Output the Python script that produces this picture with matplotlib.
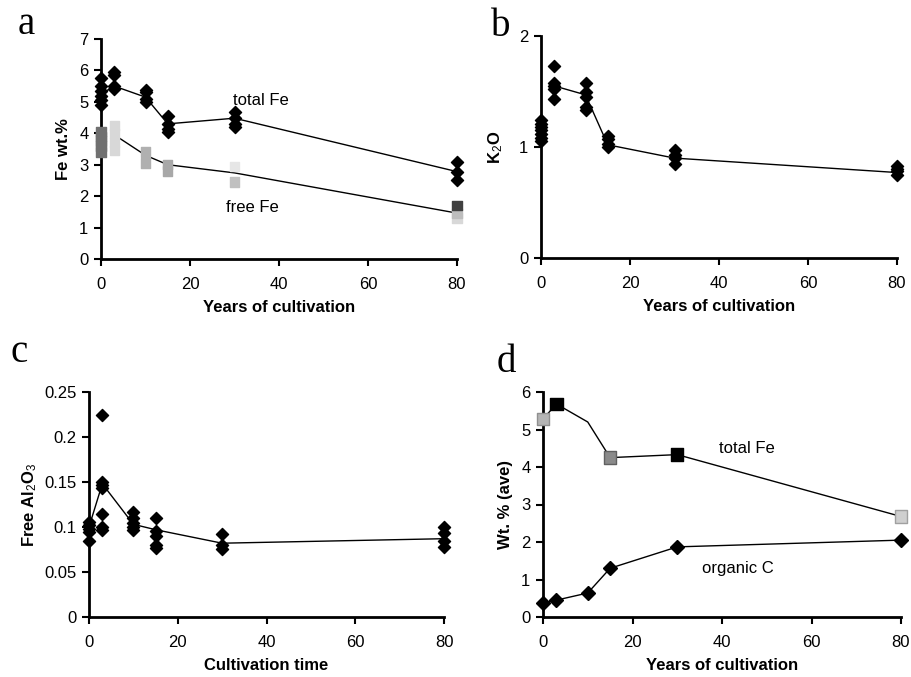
import numpy as np
import matplotlib
matplotlib.use("Agg")
import matplotlib.pyplot as plt

plt.rcParams['font.family'] = ['Liberation Sans', 'DejaVu Sans']
plt.rcParams['mathtext.fontset'] = 'custom'
plt.rcParams['mathtext.rm'] = 'Liberation Sans'
plt.rcParams['mathtext.it'] = 'Liberation Sans'
plt.rcParams['mathtext.bf'] = 'Liberation Sans:bold'

# ---- data ----
# panel a: total Fe and free Fe (wt.%)
a_tot_x = [0, 0, 0, 0, 0, 0, 3, 3, 3, 3, 10, 10, 10, 10, 15, 15, 15, 15, 30, 30, 30, 30, 80, 80, 80]
a_tot_y = [4.9, 5.05, 5.2, 5.35, 5.5, 5.75, 5.4, 5.5, 5.85, 5.95, 5.0, 5.1, 5.3, 5.38,
           4.05, 4.15, 4.3, 4.55, 4.2, 4.3, 4.5, 4.68, 2.5, 2.78, 3.1]
a_tot_mx = [0, 3, 10, 15, 30, 80]
a_tot_my = [5.25, 5.5, 5.15, 4.3, 4.48, 2.78]

a_free_x = [0, 0, 0, 0, 0, 3, 3, 3, 3, 10, 10, 15, 15, 30, 30, 80, 80, 80]
a_free_y = [3.4, 3.6, 3.75, 3.9, 4.05, 3.45, 3.7, 4.0, 4.25, 3.05, 3.4, 2.8, 3.0, 2.45, 2.95, 1.3, 1.45, 1.7]
a_free_c = ['#707070'] * 5 + ['#d8d8d8'] * 4 + ['#b0b0b0'] * 2 + ['#a8a8a8'] * 2 + ['#c0c0c0', '#e6e6e6'] + ['#d8d8d8', '#bdbdbd', '#404040']
a_free_mx = [3, 10, 15, 30, 80]
a_free_my = [3.95, 3.3, 3.0, 2.74, 1.46]

# panel b: K2O
b_x = [0] * 7 + [3] * 5 + [10] * 5 + [15] * 4 + [30] * 4 + [80] * 4
b_y = [1.05, 1.08, 1.12, 1.15, 1.18, 1.21, 1.24,
       1.43, 1.52, 1.55, 1.58, 1.73,
       1.33, 1.36, 1.45, 1.5, 1.58,
       1.0, 1.03, 1.07, 1.1,
       0.85, 0.9, 0.93, 0.97,
       0.75, 0.78, 0.8, 0.83]
b_mx = [3, 10, 15, 30, 80]
b_my = [1.55, 1.47, 1.02, 0.9, 0.77]

# panel c: free Al2O3
c_x = [0] * 5 + [3] * 7 + [10] * 5 + [15] * 5 + [30] * 3 + [80] * 4
c_y = [0.085, 0.095, 0.098, 0.102, 0.106,
       0.097, 0.1, 0.115, 0.143, 0.147, 0.15, 0.224,
       0.097, 0.1, 0.105, 0.11, 0.117,
       0.077, 0.08, 0.09, 0.096, 0.11,
       0.076, 0.08, 0.092,
       0.078, 0.085, 0.093, 0.1]
c_mx = [0, 3, 10, 15, 30, 80]
c_my = [0.1, 0.148, 0.103, 0.097, 0.082, 0.087]

# panel d: averages
d_x = [0, 3, 10, 15, 30, 80]
d_fe = [5.28, 5.68, 5.2, 4.25, 4.33, 2.68]
d_fe_c = ['#b5b5b5', 'black', 'none', '#8a8a8a', 'black', '#cfcfcf']
d_orgc = [0.37, 0.45, 0.64, 1.3, 1.87, 2.05]

W, H = 911, 677
FS = 12
fig = plt.figure(figsize=(W / 100, H / 100), dpi=100, facecolor='white')


def make_ax(l, r, b, t):
    ax = fig.add_axes([l / W, 1 - b / H, (r - l) / W, (b - t) / H])
    for s in ['top', 'right']:
        ax.spines[s].set_visible(False)
    for s in ['left', 'bottom']:
        ax.spines[s].set_linewidth(2.0)
    ax.tick_params(direction='out', width=1.5, length=5, labelsize=FS, pad=4)
    ax.tick_params(axis='x', pad=8)
    ax.set_xlim(0, 80)
    ax.set_xticks([0, 20, 40, 60, 80])
    return ax


def letter(x, y, s):
    fig.text(x / W, 1 - y / H, s, family='Liberation Serif', fontsize=28,
             ha='left', va='baseline')


# a
ax = make_ax(101, 457, 259, 39)
ax.plot(a_tot_mx, a_tot_my, color='black', lw=1.0, zorder=2)
ax.plot(a_free_mx, a_free_my, color='black', lw=1.0, zorder=2)
ax.scatter(a_tot_x, a_tot_y, marker='D', s=38, color='black', zorder=3, clip_on=False)
ax.scatter(a_free_x, a_free_y, marker='s', s=45, c=a_free_c, zorder=3, clip_on=False)
ax.set_ylim(0, 7)
ax.set_yticks(range(8))
ax.set_xlabel('Years of cultivation', fontweight='bold', fontsize=FS, labelpad=6)
ax.set_ylabel('Fe wt.%', fontweight='bold', fontsize=FS, labelpad=6)
ax.text(36, 5.05, 'total Fe', fontsize=FS, ha='center', va='center')
ax.text(34, 1.65, 'free Fe', fontsize=FS, ha='center', va='center')
letter(18, 34, 'a')

# b
ax = make_ax(541, 897, 258, 36)
ax.plot(b_mx, b_my, color='black', lw=1.0, zorder=2)
ax.scatter(b_x, b_y, marker='D', s=38, color='black', zorder=3, clip_on=False)
ax.set_ylim(0, 2)
ax.set_yticks([0, 1, 2])
ax.set_xlabel('Years of cultivation', fontweight='bold', fontsize=FS, labelpad=6)
ax.set_ylabel('K$_2$O', fontweight='bold', fontsize=FS, labelpad=10)
letter(491, 36, 'b')

# c
ax = make_ax(89, 444, 617, 392)
ax.plot(c_mx, c_my, color='black', lw=1.0, zorder=2)
ax.scatter(c_x, c_y, marker='D', s=38, color='black', zorder=3, clip_on=False)
ax.set_ylim(0, 0.25)
ax.set_yticks([0, 0.05, 0.1, 0.15, 0.2, 0.25])
ax.set_yticklabels(['0', '0.05', '0.1', '0.15', '0.2', '0.25'])
ax.set_xlabel('Cultivation time', fontweight='bold', fontsize=FS, labelpad=6)
ax.set_ylabel('Free Al$_2$O$_3$', fontweight='bold', fontsize=FS, labelpad=4)
letter(10, 362, 'c')

# d
ax = make_ax(543, 901, 617, 392)
ax.plot(d_x, d_fe, color='black', lw=1.0, zorder=2)
ax.scatter(d_x, d_fe, marker='s', s=80, c=d_fe_c, zorder=3, clip_on=False,
           edgecolors=['#909090', 'black', 'none', '#606060', 'black', '#a0a0a0'])
ax.plot(d_x, d_orgc, color='black', lw=1.0, marker='D', ms=7.5, zorder=3, clip_on=False)
ax.set_ylim(0, 6)
ax.set_yticks(range(7))
ax.set_xlabel('Years of cultivation', fontweight='bold', fontsize=FS, labelpad=6)
ax.set_ylabel('Wt. % (ave)', fontweight='bold', fontsize=FS, labelpad=6)
ax.text(45.5, 4.5, 'total Fe', fontsize=FS, ha='center', va='center')
ax.text(43.5, 1.3, 'organic C', fontsize=FS, ha='center', va='center')
letter(497, 372, 'd')

fig.savefig('out.png', dpi=100, facecolor='white')
